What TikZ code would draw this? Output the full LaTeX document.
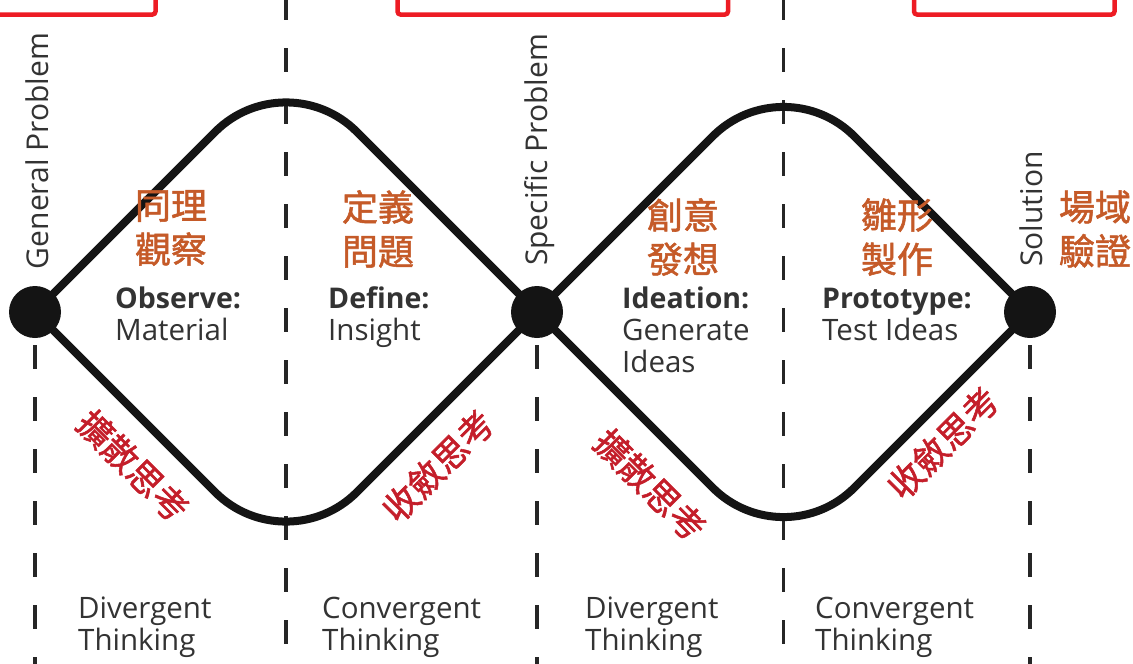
\documentclass[tikz,border=0pt]{standalone}
\usepackage{fontspec}
\setmainfont{Open Sans}
\newfontfamily\cjk[FakeBold=1.5]{Noto Sans CJK TC}
\definecolor{orng}{HTML}{C55A28}
\definecolor{crim}{HTML}{C41E2A}
\definecolor{boxred}{HTML}{ED1C24}
\definecolor{txt}{HTML}{333333}
\tikzset{
  phase/.style={line width=8pt, line join=round, rounded corners=100pt, black!92},
  divider/.style={line width=3.5pt, dash pattern=on 24pt off 28pt, black!85},
  dot/.style={circle, fill=black!92, minimum size=52pt, inner sep=0pt},
  vlabel/.style={rotate=90, font=\fontsize{30}{32}\selectfont, text=txt, fill=white, inner sep=2pt},
  eng/.style={anchor=base west, font=\fontsize{29.5}{32}\selectfont, text=txt, inner sep=0pt},
  engb/.style={eng, font=\fontsize{28.5}{32}\selectfont\bfseries},
  zh/.style={font=\cjk\fontsize{36}{44}\selectfont, text=orng, align=center, inner sep=0pt},
  think/.style={font=\cjk\fontsize{35}{36}\selectfont, text=crim, inner sep=0pt},
  topbox/.style={draw=boxred, line width=4.5pt, rounded corners=3pt}
}
\begin{document}
\begin{tikzpicture}[x=1pt, y=-1pt]
\path[use as bounding box, fill=white] (0,0) rectangle (1133,664);
% key points
\coordinate (G) at (35,312);
\coordinate (S) at (537,312);
\coordinate (F) at (1030,312);
\coordinate (t1) at (286,61);
\coordinate (b1) at (286,563);
\coordinate (t2) at (783.5,65.5);
\coordinate (b2) at (783.5,558.5);
% dividers
\draw[divider] (286,-4) -- (286,664);
\draw[divider] (783.5,-4) -- (783.5,664);
\draw[divider] (35,345) -- (35,664);
\draw[divider] (537,345) -- (537,664);
\draw[divider] (1030,345) -- (1030,664);
% top boxes (cut by the top edge)
\draw[topbox] (-10,-20) rectangle (155.5,14.5);
\draw[topbox] (397.5,-20) rectangle (728,14.5);
\draw[topbox] (914,-20) rectangle (1114.5,14.5);
% double diamond
\draw[phase] (G) -- (t1) -- (b2) -- (F);
\draw[phase] (G) -- (b1) -- (t2) -- (F);
\node[dot] (gp) at (G) {};
\node[dot] (sp) at (S) {};
\node[dot] (sol) at (F) {};
% vertical labels
\node[vlabel] (lgp) at (37,151) {General Problem};
\node[vlabel] (lsp) at (540,150) {Specific Problem};
\node[vlabel] (lsol) at (1031,209) {Solution};
% phase texts
\node[engb] (o1) at (115,308) {Observe:};
\node[eng]  (o2) at (115,340) {Material};
\node[engb] (d1) at (328,308) {Define:};
\node[eng]  (d2) at (328,340) {Insight};
\node[engb] (i1) at (622,308) {Ideation:};
\node[eng]  (i2) at (622,340) {Generate};
\node[eng]  (i3) at (622,372) {Ideas};
\node[engb] (p1) at (822,308) {Prototype:};
\node[eng]  (p2) at (822,340) {Test Ideas};
% bottom texts
\node[eng] (dv1a) at (78,618) {Divergent};
\node[eng] (dv1b) at (78,650) {Thinking};
\node[eng] (cv1a) at (322,618) {Convergent};
\node[eng] (cv1b) at (322,650) {Thinking};
\node[eng] (dv2a) at (585,618) {Divergent};
\node[eng] (dv2b) at (585,650) {Thinking};
\node[eng] (cv2a) at (815,618) {Convergent};
\node[eng] (cv2b) at (815,650) {Thinking};
% chinese phase names
\node[zh] (z1) at (171,228) {同理\\觀察};
\node[zh] (z2) at (378,229) {定義\\問題};
\node[zh] (z3) at (683,237) {創意\\發想};
\node[zh] (z4) at (897,237) {雛形\\製作};
\node[zh] (z5) at (1095,229) {場域\\驗證};
% thinking modes
\node[think, rotate=-45] (k1) at (133,466) {擴散思考};
\node[think, rotate=45]  (k2) at (438,466) {收斂思考};
\node[think, rotate=-45] (k3) at (650,485) {擴散思考};
\node[think, rotate=45]  (k4) at (943,443) {收斂思考};
\end{tikzpicture}
\end{document}
